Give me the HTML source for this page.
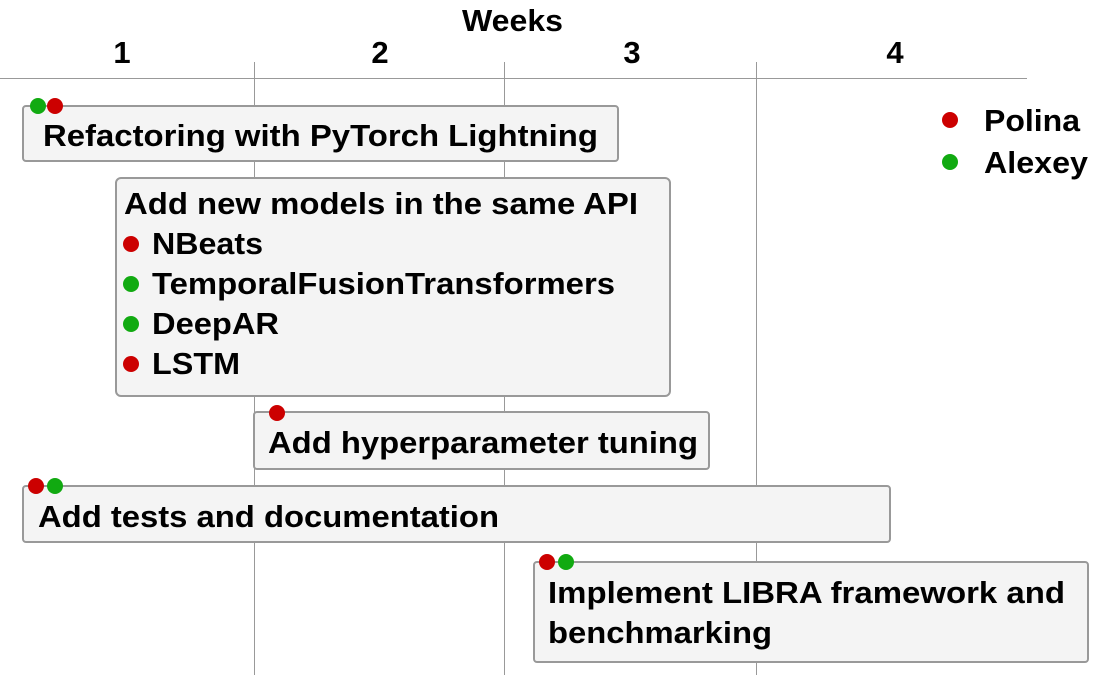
<!DOCTYPE html>
<html><head><meta charset="utf-8"><style>
html,body{margin:0;padding:0;background:#fff}
svg{display:block}
text{font-family:"Liberation Sans",Arial,sans-serif;font-weight:bold;font-size:31px;fill:#000}
</style></head><body>
<svg width="1103" height="675" viewBox="0 0 1103 675">
<line x1="0" y1="78.5" x2="1027" y2="78.5" stroke="#999" stroke-width="1"/>
<line x1="254.5" y1="62" x2="254.5" y2="675" stroke="#999"/>
<line x1="504.5" y1="62" x2="504.5" y2="675" stroke="#999"/>
<line x1="756.5" y1="62" x2="756.5" y2="675" stroke="#999"/>
<text x="462" y="31" textLength="101" lengthAdjust="spacingAndGlyphs">Weeks</text>
<text x="122" y="63" text-anchor="middle">1</text>
<text x="380" y="63" text-anchor="middle">2</text>
<text x="632" y="63" text-anchor="middle">3</text>
<text x="895" y="63" text-anchor="middle">4</text>

<g fill="#f4f4f4" stroke="#999" stroke-width="2">
<rect x="23" y="106" width="595" height="55" rx="3"/>
<rect x="116" y="178" width="554" height="218" rx="5"/>
<rect x="254" y="412" width="455" height="57" rx="3"/>
<rect x="23" y="486" width="867" height="56" rx="3"/>
<rect x="534" y="562" width="554" height="100" rx="3"/>
</g>

<circle cx="38" cy="106" r="8" fill="#11aa11"/>
<circle cx="55" cy="106" r="8" fill="#cc0000"/>
<text x="43" y="146" textLength="555" lengthAdjust="spacingAndGlyphs">Refactoring with PyTorch Lightning</text>

<text x="124" y="214" textLength="514" lengthAdjust="spacingAndGlyphs">Add new models in the same API</text>
<circle cx="131" cy="244" r="8" fill="#cc0000"/>
<text x="152" y="254" textLength="111" lengthAdjust="spacingAndGlyphs">NBeats</text>
<circle cx="131" cy="284" r="8" fill="#11aa11"/>
<text x="152" y="294" textLength="463" lengthAdjust="spacingAndGlyphs">TemporalFusionTransformers</text>
<circle cx="131" cy="324" r="8" fill="#11aa11"/>
<text x="152" y="334" textLength="127" lengthAdjust="spacingAndGlyphs">DeepAR</text>
<circle cx="131" cy="364" r="8" fill="#cc0000"/>
<text x="152" y="374" textLength="88" lengthAdjust="spacingAndGlyphs">LSTM</text>

<circle cx="277" cy="413" r="8" fill="#cc0000"/>
<text x="268" y="453" textLength="430" lengthAdjust="spacingAndGlyphs">Add hyperparameter tuning</text>

<circle cx="36" cy="486" r="8" fill="#cc0000"/>
<circle cx="55" cy="486" r="8" fill="#11aa11"/>
<text x="38" y="527" textLength="461" lengthAdjust="spacingAndGlyphs">Add tests and documentation</text>

<circle cx="547" cy="562" r="8" fill="#cc0000"/>
<circle cx="566" cy="562" r="8" fill="#11aa11"/>
<text x="548" y="603" textLength="517" lengthAdjust="spacingAndGlyphs">Implement LIBRA framework and</text>
<text x="548" y="643" textLength="224" lengthAdjust="spacingAndGlyphs">benchmarking</text>

<circle cx="950" cy="120" r="8" fill="#cc0000"/>
<text x="984" y="131" textLength="96" lengthAdjust="spacingAndGlyphs">Polina</text>
<circle cx="950" cy="162" r="8" fill="#11aa11"/>
<text x="984" y="173" textLength="104" lengthAdjust="spacingAndGlyphs">Alexey</text>
</svg>
</body></html>
